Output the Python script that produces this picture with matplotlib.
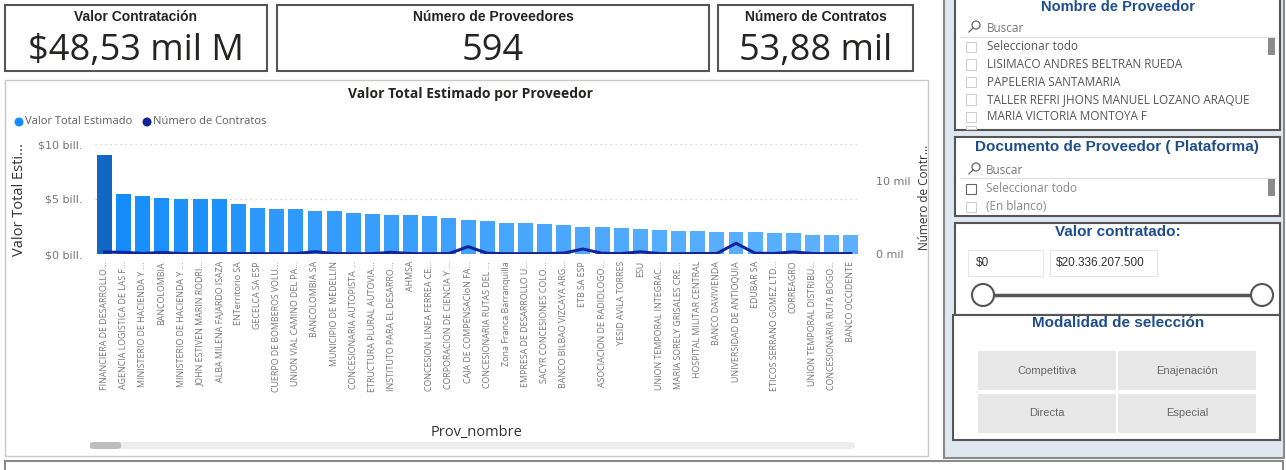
import matplotlib
matplotlib.use("Agg")
import matplotlib.pyplot as plt
from matplotlib.patches import Rectangle, Ellipse, FancyBboxPatch
from matplotlib.lines import Line2D
from matplotlib.colors import LinearSegmentedColormap, Normalize
from matplotlib.ticker import FuncFormatter

# -------------------------
# DATA
# -------------------------
proveedores = [
    "FINANCIERA DE DESARROLLO...", "AGENCIA LOGISTICA DE LAS F...", "MINISTERIO DE HACIENDA Y ...",
    "BANCOLOMBIA", "MINISTERIO DE HACIENDA Y ...", "JOHN ESTIVEN MARIN RODRI...",
    "ALBA MILENA FAJARDO ISAZA", "ENTerritorio SA", "GECELCA SA ESP",
    "CUERPO DE BOMBEROS VOLU...", "UNION VIAL CAMINO DEL PA...", "BANCOLOMBIA SA",
    "MUNICIPIO DE MEDELLIN", "CONCESIONARIA AUTOPISTA ...", "ETRUCTURA PLURAL AUTOVIA...",
    "INSTITUTO PARA EL DESARRO...", "AHMSA", "CONCESION LINEA FERREA CE...",
    "CORPORACION DE CIENCIA Y ...", "CAJA DE COMPENSACIoN FA...", "CONCESIONARIA RUTAS DEL ...",
    "Zona Franca Barranquilla", "EMPRESA DE DESARROLLO U...", "SACYR CONCESIONES COLO...",
    "BANCO BILBAO VIZCAYA ARG...", "ETB SA ESP", "ASOCIACION DE RADIOLOGO...",
    "YESID AVILA TORRES", "ESU", "UNION TEMPORAL INTEGRAC...",
    "MARIA SORELY GRISALES CRE...", "HOSPITAL MILITAR CENTRAL", "BANCO DAVIVIENDA",
    "UNIVERSIDAD DE ANTIOQUIA", "EDUBAR SA", "ETICOS SERRANO GOMEZ LTD...",
    "CORREAGRO", "UNION TEMPORAL DISTRIBU...", "CONCESIONARIA RUTA BOGO...",
    "BANCO OCCIDENTE",
]

# valor total estimado, in "bill."
valor_bill = [
    9.00, 5.48, 5.23, 5.07, 5.00, 4.98, 4.98, 4.59, 4.22, 4.13,
    4.07, 3.88, 3.88, 3.76, 3.67, 3.52, 3.52, 3.43, 3.30, 3.10,
    3.00, 2.84, 2.81, 2.75, 2.60, 2.50, 2.48, 2.39, 2.23, 2.17,
    2.08, 2.05, 1.99, 1.96, 1.96, 1.90, 1.87, 1.77, 1.74, 1.74,
]

num_contratos = [
    260, 240, 70, 220, 60, 40, 50, 60, 50, 40,
    50, 320, 60, 40, 50, 230, 60, 40, 60, 1000,
    110, 40, 50, 60, 120, 680, 100, 60, 300, 60,
    50, 60, 70, 1460, 110, 70, 290, 60, 50, 60,
]

kpi_titulos = ["Valor Contratación", "Número de Proveedores", "Número de Contratos"]
kpi_valores = ["$48,53 mil M", "594", "53,88 mil"]

lista_proveedor = ["Seleccionar todo", "LISIMACO ANDRES BELTRAN RUEDA", "PAPELERIA SANTAMARIA",
                   "TALLER REFRI JHONS MANUEL LOZANO ARAQUE", "MARIA VICTORIA MONTOYA F"]
lista_documento = ["Seleccionar todo", "(En blanco)"]
rango_valor = ["$0", "$20.336.207.500"]
modalidades = ["Competitiva", "Enajenación", "Directa", "Especial"]

# -------------------------
# HELPERS (pixel coords, origin top-left)
# -------------------------
W, H = 1286, 470
fig = plt.figure(figsize=(W / 100, H / 100), dpi=100)
fig.patch.set_facecolor("white")

UI = ["Open Sans", "DejaVu Sans"]
ARIAL = ["Liberation Sans", "DejaVu Sans"]
BLUE_T = "#1f4e8c"


def fx(x):
    return x / W


def fy(y):
    return 1 - y / H


def box(x0, y0, x1, y1, ec="#555555", lw=1.2, fc="white", z=-1):
    r = Rectangle((fx(x0), fy(y1)), (x1 - x0) / W, (y1 - y0) / H,
                  transform=fig.transFigure, fc=fc, ec=ec, lw=lw, zorder=z)
    fig.patches.append(r)


def circ(x, y, r, **kw):
    fig.patches.append(Ellipse((fx(x), fy(y)), 2 * r / W, 2 * r / H,
                               transform=fig.transFigure, **kw))


def txt(x, y, s, **kw):
    kw.setdefault("va", "center")
    fig.text(fx(x), fy(y), s, **kw)


def lupa(x, y):
    circ(x, y, 4, fc="none", ec="#666666", lw=0.9, zorder=3)
    fig.lines.append(Line2D([fx(x - 3), fx(x - 7)], [fy(y + 3), fy(y + 7)],
                            transform=fig.transFigure, color="#666666", lw=0.9))


def check(x, y, ec="#cfcfcf"):
    box(x, y - 5, x + 10, y + 5, ec=ec, lw=0.8, z=2)


# -------------------------
# KPI CARDS
# -------------------------
cards = [(5, 267), (277, 709), (718, 913)]
for (x0, x1), t, v in zip(cards, kpi_titulos, kpi_valores):
    box(x0, 5, x1, 71, ec="#555555", lw=1.5)
    cx = (x0 + x1) / 2
    txt(cx, 17, t, ha="center", fontsize=10, fontweight="bold", color="#252423", family=ARIAL)
    txt(cx, 51, v, ha="center", fontsize=26, color="#252423", family=UI)

# -------------------------
# CHART PANEL
# -------------------------
box(5, 80, 928, 456, ec="#c8c8c8", lw=1.0)
txt(471, 94, "Valor Total Estimado por Proveedor", ha="center", fontsize=10,
    fontweight="bold", color="#252423", family=UI)

# legend
circ(19, 122, 4.5, fc="#118DFF", ec="none")
txt(25, 122, "Valor Total Estimado", ha="left", fontsize=8, color="#605e5c", family=UI)
circ(147, 122, 4.5, fc="#12239E", ec="none")
txt(153, 122, "Número de Contratos", ha="left", fontsize=8, color="#605e5c", family=UI)

ax = fig.add_axes([fx(94.9), fy(254), (860.4 - 94.9) / W, (254 - 144) / H])
x = list(range(len(valor_bill)))

cmap = LinearSegmentedColormap.from_list(
    "pbi", [(0.0, "#5CB0FF"), (0.52, "#138CF9"), (1.0, "#1267C2")])
norm = Normalize(min(valor_bill), max(valor_bill))
colors = [cmap(norm(v)) for v in valor_bill]

ax.bar(x, valor_bill, width=0.78, color=colors, zorder=2)
ax.set_xlim(-0.5, len(x) - 0.5)
ax.set_ylim(0, 10)
ax.set_yticks([0, 5, 10])
ax.yaxis.set_major_formatter(FuncFormatter(lambda v, p: f"${v:g} bill."))
ax.grid(axis="y", linestyle=(0, (1, 3)), color="#c8c8c8", lw=0.9, zorder=0)
ax.set_xticks(x, proveedores, rotation=90, fontsize=6.4, color="#777777", family=UI)
ax.tick_params(axis="x", length=0, pad=5)
ax.tick_params(axis="y", length=0, pad=9, labelsize=8, labelcolor="#777777")
for s in ax.spines.values():
    s.set_visible(False)
ax.patch.set_alpha(0)

ax2 = ax.twinx()
ax2.plot(x, num_contratos, color="#12239E", lw=2.2, zorder=3)
ax2.set_ylim(0, 15000)
ax2.set_yticks([0, 10000])
ax2.yaxis.set_major_formatter(FuncFormatter(lambda v, p: f"{v / 1000:g} mil"))
ax2.tick_params(axis="y", length=0, pad=11, labelsize=8, labelcolor="#777777")
for s in ax2.spines.values():
    s.set_visible(False)

txt(20, 200, "Valor Total Esti...", ha="center", rotation=90, fontsize=10.5,
    color="#333333", family=UI)
txt(924, 197, "Número de Contr...", ha="center", rotation=90, fontsize=8.5,
    color="#333333", family=UI)
txt(477, 432, "Prov_nombre", ha="center", fontsize=10.5, color="#333333", family=UI)

# scrollbar
fig.patches.append(FancyBboxPatch((fx(90), fy(449)), (855 - 90) / W, 7 / H,
                                  boxstyle="round,pad=0,rounding_size=0.004",
                                  transform=fig.transFigure, fc="#ededed", ec="none"))
fig.patches.append(FancyBboxPatch((fx(90), fy(449)), 31 / W, 7 / H,
                                  boxstyle="round,pad=0,rounding_size=0.004",
                                  transform=fig.transFigure, fc="#bdbdbd", ec="none"))

# -------------------------
# RIGHT FILTER COLUMN
# -------------------------
box(944, -2, 1284, 458, ec="#8a8a8a", lw=1.5, fc="#dfe7f0", z=-2)

# Nombre de Proveedor
box(955, -5, 1280, 130, ec="#555555", lw=1.5)
txt(1118, 7, "Nombre de Proveedor", ha="center", fontsize=10.5, fontweight="bold",
    color=BLUE_T, family=ARIAL)
lupa(976, 25)
txt(987, 28, "Buscar", ha="left", fontsize=8.5, color="#777777", family=UI)
fig.lines.append(Line2D([fx(960), fx(1276)], [fy(37), fy(37)], transform=fig.transFigure,
                        color="#e1e1e1", lw=1))
for i, s in enumerate(lista_proveedor):
    yy = 47 + i * 17.5
    check(966, yy)
    txt(987, yy, s, ha="left", fontsize=8.5, color="#555555", family=UI)
box(966, 126, 976, 129, ec="#cfcfcf", lw=0.8, z=2)
box(1268, 38, 1275, 55, ec="none", fc="#8c8c8c", z=2)

# Documento de Proveedor
box(955, 137, 1280, 216, ec="#555555", lw=1.5)
txt(1117, 147, "Documento de Proveedor ( Plataforma)", ha="center", fontsize=11,
    fontweight="bold", color=BLUE_T, family=ARIAL)
lupa(976, 167)
txt(986, 170, "Buscar", ha="left", fontsize=8.5, color="#777777", family=UI)
fig.lines.append(Line2D([fx(960), fx(1276)], [fy(178), fy(178)], transform=fig.transFigure,
                        color="#e1e1e1", lw=1))
for i, s in enumerate(lista_documento):
    yy = 189 + i * 18
    check(966, yy, ec="#666666" if i == 0 else "#cfcfcf")
    txt(986, yy, s, ha="left", fontsize=8.5, color="#888888", family=UI)
box(1268, 179, 1275, 196, ec="none", fc="#8c8c8c", z=2)

# Valor contratado
box(955, 223, 1280, 315, ec="#555555", lw=1.5)
txt(1118, 232, "Valor contratado:", ha="center", fontsize=11, fontweight="bold",
    color=BLUE_T, family=ARIAL)
box(968, 250, 1043, 276, ec="#e6e6e6", lw=0.8, z=2)
txt(976, 263, rango_valor[0], ha="left", fontsize=8.5, color="#333333", family=ARIAL)
box(1050, 250, 1157, 276, ec="#e6e6e6", lw=0.8, z=2)
txt(1056, 263, rango_valor[1], ha="left", fontsize=8.5, color="#333333", family=ARIAL)
fig.lines.append(Line2D([fx(983), fx(1262)], [fy(295), fy(295)], transform=fig.transFigure,
                        color="#555555", lw=2.5))
for cxp in (983, 1262):
    circ(cxp, 295, 11, fc="white", ec="#555555", lw=1.5, zorder=4)

# Modalidad de seleccion
box(953, 315, 1280, 440, ec="#555555", lw=1.5)
txt(1118, 323, "Modalidad de selección", ha="center", fontsize=11, fontweight="bold",
    color=BLUE_T, family=ARIAL)
botones = [(978, 1116, 351, 390), (1118, 1256, 351, 390),
           (978, 1116, 394, 433), (1118, 1256, 394, 433)]
for (x0, x1, y0, y1), s in zip(botones, modalidades):
    box(x0, y0, x1, y1, ec="none", fc="#e8e8e8", z=2)
    txt((x0 + x1) / 2, (y0 + y1) / 2, s, ha="center", fontsize=8, color="#666666", family=ARIAL)

# bottom panel edge
box(5, 461, 1283, 480, ec="#8a8a8a", lw=1.5)

fig.savefig("out.png", dpi=100)
